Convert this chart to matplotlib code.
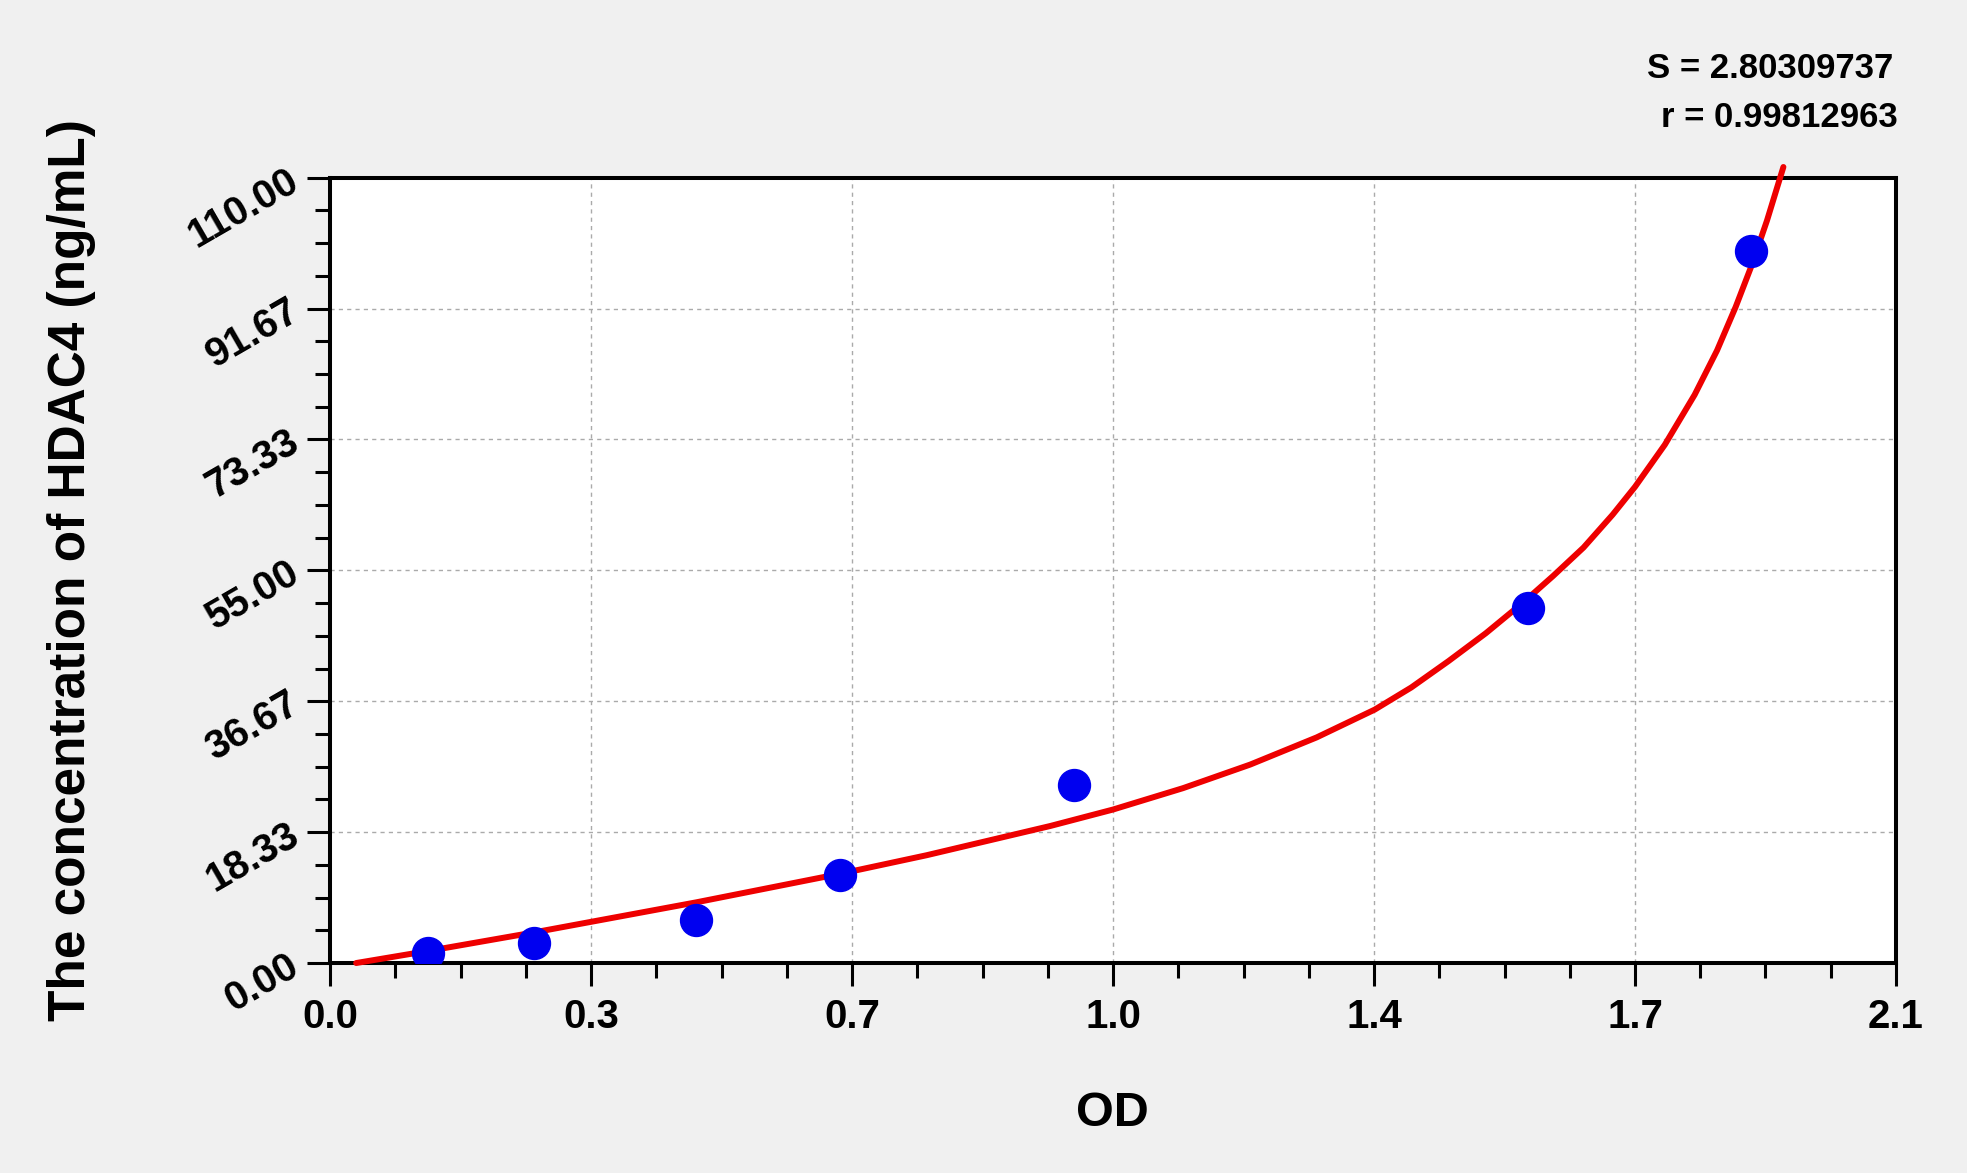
import matplotlib
matplotlib.use("Agg")
import matplotlib.pyplot as plt
import numpy as np
from matplotlib.ticker import AutoMinorLocator

# standard points: OD -> concentration (ng/mL)
od = [0.132, 0.274, 0.491, 0.684, 0.997, 1.606, 1.906]
conc = [1.45, 2.75, 6.0, 12.3, 24.9, 49.7, 99.8]

# fitted curve
curve_od = [0.035, 0.132, 0.274, 0.491, 0.684, 0.800, 0.966, 1.050, 1.144,
            1.234, 1.323, 1.401, 1.450, 1.500, 1.550, 1.600, 1.640, 1.681,
            1.720, 1.750, 1.790, 1.830, 1.860, 1.885, 1.906, 1.927, 1.949]
curve_conc = [0.0, 1.7, 4.3, 8.5, 12.5, 15.1, 19.2, 21.5, 24.5,
              27.8, 31.6, 35.5, 38.6, 42.3, 46.2, 50.5, 54.2, 58.2,
              62.8, 66.7, 72.6, 79.6, 85.8, 91.9, 97.6, 104.0, 111.5]

x_ticks = [0.0, 0.35, 0.70, 1.05, 1.40, 1.75, 2.10]
x_labels = ["0.0", "0.3", "0.7", "1.0", "1.4", "1.7", "2.1"]
y_ticks = np.linspace(0, 110, 7)
y_labels = ["0.00", "18.33", "36.67", "55.00", "73.33", "91.67", "110.00"]

S_value = "2.80309737"
r_value = "0.99812963"

plt.rcParams["font.family"] = ["Liberation Sans", "DejaVu Sans"]
plt.rcParams["font.weight"] = "bold"

fig = plt.figure(figsize=(19.67, 11.73), dpi=100, facecolor="#f0f0f0")
ax = fig.add_axes([0.1678, 0.179, 0.7961, 0.6695])
ax.set_facecolor("white")

ax.plot(curve_od, curve_conc, color="#ee0000", linewidth=4.3,
        solid_capstyle="round", solid_joinstyle="round", clip_on=False, zorder=3)
ax.plot(od, conc, "o", color="#0000f0", markersize=23, zorder=4)

ax.set_xlim(0, 2.1)
ax.set_ylim(0, 110)
ax.set_xticks(x_ticks)
ax.set_xticklabels(x_labels)
ax.set_yticks(y_ticks)
ax.set_yticklabels(y_labels)
ax.xaxis.set_minor_locator(AutoMinorLocator(4))
ax.yaxis.set_minor_locator(AutoMinorLocator(4))

ax.tick_params(which="major", direction="out", length=16.5, width=2.2,
               labelsize=29, color="black")
ax.tick_params(which="minor", direction="out", length=10.8, width=2.2)
ax.tick_params(axis="x", which="major", pad=9)
ax.tick_params(axis="y", which="major", pad=8)
for lab in ax.get_yticklabels():
    lab.set_rotation(30)
    lab.set_rotation_mode("anchor")
    lab.set_ha("right")
    lab.set_va("center")
for lab in ax.get_xticklabels() + ax.get_yticklabels():
    lab.set_fontweight("bold")

for sp in ax.spines.values():
    sp.set_linewidth(2.9)

ax.grid(True, which="major", color="#aaaaaa", linestyle=(0, (3, 3)), linewidth=1)
ax.set_axisbelow(True)

fig.text(0.5657, 0.051, "OD", fontsize=35, fontweight="bold",
         ha="center", va="center")
fig.text(0.0365, 0.5136, "The concentration of HDAC4 (ng/mL)", fontsize=37,
         fontweight="bold", rotation=90, ha="center", va="center")

fig.text(0.9624, 0.9335, "S = " + S_value, fontsize=25, fontweight="bold",
         ha="right", va="baseline")
fig.text(0.965, 0.8917, "r = " + r_value, fontsize=25, fontweight="bold",
         ha="right", va="baseline")

fig.savefig("out.png", dpi=100, facecolor=fig.get_facecolor())
